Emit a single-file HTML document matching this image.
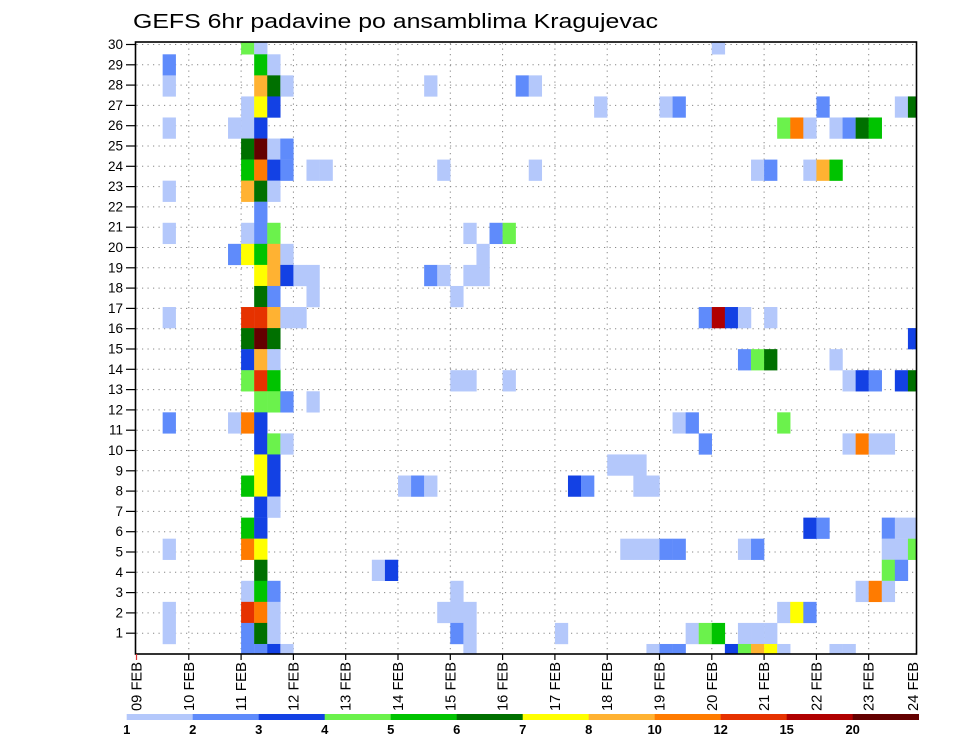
<!DOCTYPE html>
<html><head><meta charset="utf-8"><style>
html,body{margin:0;padding:0;background:#fff;}
svg{display:block;font-family:"Liberation Sans",sans-serif;}
</style></head><body>
<svg id="chart" width="960" height="742" viewBox="0 0 960 742" xmlns="http://www.w3.org/2000/svg">
<rect width="960" height="742" fill="#fff"/>
<text x="133" y="28" font-size="20" textLength="525" lengthAdjust="spacingAndGlyphs" fill="#000">GEFS 6hr padavine po ansamblima Kragujevac</text>
<defs><clipPath id="plotclip"><rect x="135.5" y="42" width="781" height="612"/></clipPath></defs>
<g id="grid"></g>
<g id="cells" clip-path="url(#plotclip)"></g>
<rect x="135.5" y="42" width="781" height="612" fill="none" stroke="#000" stroke-width="1.6"/>
<g id="axes"></g>
<g id="legend"></g>
</svg>
<script>
// ---- data ----
const dayLabels = ["09 FEB","10 FEB","11 FEB","12 FEB","13 FEB","14 FEB","15 FEB","16 FEB","17 FEB","18 FEB","19 FEB","20 FEB","21 FEB","22 FEB","23 FEB","24 FEB"];
const memberTicks = [1,2,3,4,5,6,7,8,9,10,11,12,13,14,15,16,17,18,19,20,21,22,23,24,25,26,27,28,29,30];
const levelThresholds = [1,2,3,4,5,6,7,8,10,12,15,20];
const levelColors = ["#b4c8fb","#5f8bfb","#1341e4","#6bf24c","#00c300","#007000","#ffff00","#ffb232","#ff7b00","#e63200","#b00000","#640000"];
// each cell: member row (0 = top band), 6-hour step index from 09 FEB 00Z, precipitation (mm)
const cellRow = [];
const cellStep = [];
const cellPrecip = [];
const rawCells = [
[0,8,4.5],[0,9,1.5],[0,44,1.5],
[1,2,2.5],[1,9,5.5],[1,10,1.5],
[2,2,1.5],[2,9,9],[2,10,6.5],[2,11,1.5],[2,22,1.5],[2,29,2.5],[2,30,1.5],
[3,8,1.5],[3,9,7.5],[3,10,3.5],[3,35,1.5],[3,40,1.5],[3,41,2.5],[3,52,2.5],[3,58,1.5],[3,59,6.5],
[4,2,1.5],[4,7,1.5],[4,8,1.5],[4,9,3.5],[4,49,4.5],[4,50,11],[4,51,1.5],[4,53,1.5],[4,54,2.5],[4,55,6.5],[4,56,5.5],
[5,8,6.5],[5,9,22],[5,10,1.5],[5,11,2.5],
[6,8,5.5],[6,9,11],[6,10,3.5],[6,11,2.5],[6,13,1.5],[6,14,1.5],[6,23,1.5],[6,30,1.5],[6,47,1.5],[6,48,2.5],[6,51,1.5],[6,52,9],[6,53,5.5],
[7,2,1.5],[7,8,9],[7,9,6.5],[7,10,1.5],
[8,9,2.5],
[9,2,1.5],[9,8,1.5],[9,9,2.5],[9,10,4.5],[9,25,1.5],[9,27,2.5],[9,28,4.5],
[10,7,2.5],[10,8,7.5],[10,9,5.5],[10,10,9],[10,11,1.5],[10,26,1.5],
[11,9,7.5],[11,10,9],[11,11,3.5],[11,12,1.5],[11,13,1.5],[11,22,2.5],[11,23,1.5],[11,25,1.5],[11,26,1.5],
[12,9,6.5],[12,10,2.5],[12,13,1.5],[12,24,1.5],
[13,2,1.5],[13,8,13.5],[13,9,13.5],[13,10,9],[13,11,1.5],[13,12,1.5],[13,43,2.5],[13,44,17],[13,45,3.5],[13,46,1.5],[13,48,1.5],
[14,8,6.5],[14,9,22],[14,10,6.5],[14,59,3.5],
[15,8,3.5],[15,9,9],[15,10,1.5],[15,46,2.5],[15,47,4.5],[15,48,6.5],[15,53,1.5],
[16,8,4.5],[16,9,13.5],[16,10,5.5],[16,24,1.5],[16,25,1.5],[16,28,1.5],[16,54,1.5],[16,55,3.5],[16,56,2.5],[16,58,3.5],[16,59,6.5],
[17,9,4.5],[17,10,4.5],[17,11,2.5],[17,13,1.5],
[18,2,2.5],[18,7,1.5],[18,8,11],[18,9,3.5],[18,41,1.5],[18,42,2.5],[18,49,4.5],
[19,9,3.5],[19,10,4.5],[19,11,1.5],[19,43,2.5],[19,54,1.5],[19,55,11],[19,56,1.5],[19,57,1.5],
[20,9,7.5],[20,10,3.5],[20,36,1.5],[20,37,1.5],[20,38,1.5],
[21,8,5.5],[21,9,7.5],[21,10,3.5],[21,20,1.5],[21,21,2.5],[21,22,1.5],[21,33,3.5],[21,34,2.5],[21,38,1.5],[21,39,1.5],
[22,9,3.5],[22,10,1.5],
[23,8,5.5],[23,9,3.5],[23,51,3.5],[23,52,2.5],[23,57,2.5],[23,58,1.5],[23,59,1.5],
[24,2,1.5],[24,8,11],[24,9,7.5],[24,37,1.5],[24,38,1.5],[24,39,1.5],[24,40,2.5],[24,41,2.5],[24,46,1.5],[24,47,2.5],[24,57,1.5],[24,58,1.5],[24,59,4.5],
[25,9,6.5],[25,18,1.5],[25,19,3.5],[25,57,4.5],[25,58,2.5],
[26,8,1.5],[26,9,5.5],[26,10,2.5],[26,24,1.5],[26,55,1.5],[26,56,11],[26,57,1.5],
[27,2,1.5],[27,8,13.5],[27,9,11],[27,10,1.5],[27,23,1.5],[27,24,1.5],[27,25,1.5],[27,49,1.5],[27,50,7.5],[27,51,2.5],
[28,2,1.5],[28,8,2.5],[28,9,6.5],[28,10,1.5],[28,24,2.5],[28,25,1.5],[28,32,1.5],[28,42,1.5],[28,43,4.5],[28,44,5.5],[28,46,1.5],[28,47,1.5],[28,48,1.5],
[29,8,2.5],[29,9,2.5],[29,10,3.5],[29,11,1.5],[29,25,1.5],[29,39,1.5],[29,40,2.5],[29,41,2.5],[29,45,3.5],[29,46,4.5],[29,47,9],[29,48,7.5],[29,49,1.5],[29,53,1.5],[29,54,1.5]
];
rawCells.forEach(c => { cellRow.push(c[0]); cellStep.push(c[1]); cellPrecip.push(c[2]); });

// ---- scales ----
const NS = "http://www.w3.org/2000/svg";
const X0 = 136.5, DAYW = 52.3, STEPW = DAYW / 4;
const xDay = d => X0 + d * DAYW;
const xStep = k => X0 + k * STEPW;
const BAND_H = 21.06;
const yBandTop = j => 54.3 + (j - 1) * BAND_H;
const yTick = r => 653.5 - r * 20.3;
function colorFor(v) {
  let idx = -1;
  for (let i = 0; i < levelThresholds.length; i++) if (v >= levelThresholds[i]) idx = i;
  return idx < 0 ? null : levelColors[idx];
}
function mk(tag, attrs, parent) {
  const e = document.createElementNS(NS, tag);
  for (const a in attrs) e.setAttribute(a, attrs[a]);
  parent.appendChild(e);
  return e;
}
const grid = document.getElementById("grid");
const cells = document.getElementById("cells");
const axes = document.getElementById("axes");
const legend = document.getElementById("legend");

// grid lines
memberTicks.forEach(r => {
  const y = yTick(r);
  const l = mk("line", {x1: 136.5, x2: 916, y1: y, y2: y, stroke: "#888", "stroke-width": 1, "stroke-dasharray": "1.2 4.3"}, grid);
  
  
});
dayLabels.forEach((d, i) => {
  const x = xDay(i);
  if (i === 0 || x > 916) return;
  const l = mk("line", {x1: x, x2: x, y1: 43, y2: 653, stroke: "#888", "stroke-width": 1, "stroke-dasharray": "1.2 4.3"}, grid);
  
  
});

// cells
for (let i = 0; i < cellRow.length; i++) {
  const col = colorFor(cellPrecip[i]);
  if (!col) continue;
  const r = mk("rect", {x: xStep(cellStep[i]), y: yBandTop(cellRow[i]), width: STEPW + 0.2, height: BAND_H + 0.2, fill: col}, cells);
  
  
}

// y axis ticks + labels
memberTicks.forEach(r => {
  const y = yTick(r);
  const t = mk("line", {x1: 126, x2: 135.5, y1: y, y2: y, stroke: "#000", "stroke-width": 1.2}, axes);
  
  
  const lab = mk("text", {x: 123, y: y + 4.5, "font-size": 13.5, "text-anchor": "end", fill: "#000"}, axes);
  lab.textContent = r;
  
  
});
// x axis ticks + labels
dayLabels.forEach((d, i) => {
  let x = xDay(i);
  if (x > 916) x = 913;
  else {
    const t = mk("line", {x1: x, x2: x, y1: 654, y2: 660, stroke: i === 0 ? "#d33" : "#000", "stroke-width": 1.2}, axes);
    
    
  }
  const lab = mk("text", {x: 0, y: 0, "font-size": 14.5, "text-anchor": "end", fill: "#000", transform: "translate(" + (x + 5) + ",662) rotate(-90)", textLength: 49, lengthAdjust: "spacingAndGlyphs"}, axes);
  lab.textContent = d;
  
  
});

// legend
const LX0 = 126.7, LW = 66;
levelColors.forEach((c, i) => {
  const r = mk("rect", {x: LX0 + i * LW, y: 714, width: LW + 0.3, height: 6, fill: c}, legend);
  
  
});
levelThresholds.forEach((v, i) => {
  const t = mk("text", {x: LX0 + i * LW, y: 734, "font-size": 13, "font-weight": "bold", "text-anchor": "middle", fill: "#000"}, legend);
  t.textContent = v;
  
  
});
</script>
</body></html>
